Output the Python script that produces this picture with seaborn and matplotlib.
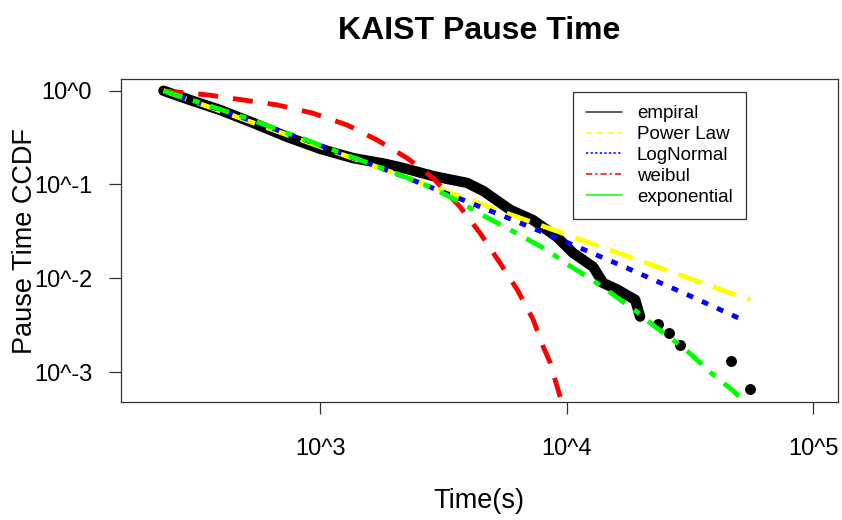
import pandas as pd
import seaborn as sns
import matplotlib.pyplot as plt
from matplotlib.lines import Line2D

################################
#     Values    #
################################

# empirical CCDF, dense part (drawn as thick band)
emp_time = [231, 297, 393, 535, 735, 1000, 1361, 1837, 2173, 2871, 3945, 4600,
            5902, 7311, 9141, 10620, 12820, 14060, 16030, 17580, 18970, 19860]
emp_ccdf = [1.0, 0.794, 0.622, 0.453, 0.321, 0.240, 0.191, 0.166, 0.150, 0.123,
            0.104, 0.085, 0.0537, 0.0417, 0.0275, 0.0186, 0.0132, 0.0089, 0.0076,
            0.0066, 0.0059, 0.0039]
# empirical CCDF, isolated tail points
tail_time = [23500, 26060, 28840, 46450, 55460]
tail_ccdf = [0.00324, 0.00263, 0.00195, 0.00132, 0.00066]

pl_time = [231, 1000, 3160, 10000, 31600, 55500]
pl_ccdf = [1.0, 0.253, 0.0861, 0.0292, 0.00995, 0.00587]

ln_time = [231, 501, 1000, 1995, 3802, 6180, 9683, 15450, 20420, 31620, 50580]
ln_ccdf = [1.0, 0.50, 0.261, 0.133, 0.0684, 0.0409, 0.0251, 0.0149, 0.0108,
           0.0065, 0.0037]

wb_time = [231, 352, 488, 670, 929, 1288, 1702, 2254, 2871, 3698, 4457, 5370,
           6295, 7311, 8035, 8570, 9419, 9886]
wb_ccdf = [1.0, 0.90, 0.796, 0.705, 0.578, 0.430, 0.298, 0.191, 0.117, 0.0575,
           0.0302, 0.0145, 0.00759, 0.00363, 0.00186, 0.00126, 0.000537, 0.000355]

ex_time = [231, 501, 1000, 2113, 2871, 3698, 4581, 6067, 8337, 10050, 12450,
           15000, 19320, 22440, 28050, 32280, 38190, 46880, 52970]
ex_ccdf = [1.0, 0.513, 0.263, 0.126, 0.0912, 0.0646, 0.0468, 0.0316, 0.0200,
           0.0141, 0.0100, 0.00708, 0.00437, 0.00316, 0.00204, 0.00151, 0.00100,
           0.000646, 0.000479]

legend_labels = ["empiral", "Power Law", "LogNormal", "weibul", "exponential"]
x_ticks = [1e3, 1e4, 1e5]
x_ticklabels = ["10^3", "10^4", "10^5"]
y_ticks = [1, 0.1, 0.01, 0.001]
y_ticklabels = ["10^0", "10^-1", "10^-2", "10^-3"]

################################
#         Plot setup           #
################################

sns.set_style("white")
plt.rcParams['font.family'] = ['Liberation Sans', 'DejaVu Sans']
plt.rcParams['text.color'] = 'black'
plt.rcParams['axes.labelcolor'] = 'black'
plt.rcParams['xtick.color'] = 'black'
plt.rcParams['ytick.color'] = 'black'

fig = plt.figure(figsize=(8.42, 5.2), dpi=100)
ax = fig.add_axes([0.1434, 0.2269, 0.8518, 0.6212])
ax.set_xscale("log")
ax.set_yscale("log")

emp = pd.DataFrame({"t": emp_time, "p": emp_ccdf})
tail = pd.DataFrame({"t": tail_time, "p": tail_ccdf})
fits = [
    (pl_time, pl_ccdf, "#FFFF00", (0, (5.0, 2.5))),
    (ln_time, ln_ccdf, "#0000FF", (0, (1.4, 2.0))),
    (wb_time, wb_ccdf, "#FF0000", (0, (4.1, 3.1))),
    (ex_time, ex_ccdf, "#00FF00", (0, (4.1, 2.3, 1.4, 2.3))),
]

sns.lineplot(data=emp, x="t", y="p", ax=ax, color="black", lw=7.5,
             estimator=None, sort=False, solid_capstyle="round",
             solid_joinstyle="round", zorder=2)
sns.scatterplot(data=tail, x="t", y="p", ax=ax, color="black", s=62,
                edgecolor="black", linewidth=0, zorder=2)

for i, (t, p, col, ls) in enumerate(fits):
    df = pd.DataFrame({"t": t, "p": p})
    sns.lineplot(data=df, x="t", y="p", ax=ax, color=col, lw=3.5,
                 linestyle=ls, estimator=None, sort=False, zorder=3 + i)

ax.set_xlim(155, 126200)
ax.set_ylim(0.000479, 1.334)

ax.set_xticks(x_ticks)
ax.set_xticklabels(x_ticklabels)
ax.set_yticks(y_ticks)
ax.set_yticklabels(y_ticklabels)
ax.minorticks_off()
ax.tick_params(axis="both", direction="out", length=8.6, width=0.9,
               color="#333333", labelsize=17, bottom=True, left=True)
ax.tick_params(axis="x", pad=17)
ax.tick_params(axis="y", pad=12)

for s in ax.spines.values():
    s.set_color("#333333")
    s.set_linewidth(0.9)

ax.set_title("KAIST Pause Time", fontsize=23, fontweight="bold", pad=29)

ax.set_xlabel("Time(s)", fontsize=19.5)
ax.set_ylabel("Pause Time CCDF", fontsize=19.5, va="center")
ax.xaxis.set_label_coords(0.5, -0.265)
ax.yaxis.set_label_coords(-0.133, 0.5)

handles = [
    Line2D([], [], color="#333333", lw=1.1),
    Line2D([], [], color="#FFFF00", lw=1.1, linestyle=(0, (4, 3))),
    Line2D([], [], color="#0000FF", lw=1.1, linestyle=(0, (1.5, 1.5))),
    Line2D([], [], color="#FF0000", lw=1.1, linestyle=(0, (4, 2, 1.5, 2))),
    Line2D([], [], color="#00FF00", lw=1.1),
]
leg = ax.legend(handles, legend_labels, loc="upper left",
                bbox_to_anchor=(0.6306, 0.9598), fontsize=13.5, frameon=True,
                fancybox=False, edgecolor="black", handlelength=1.9,
                handletextpad=0.8, labelspacing=0.2, borderpad=0.7,
                borderaxespad=0)
leg.get_frame().set_linewidth(0.9)

fig.savefig("out.png", dpi=100)
